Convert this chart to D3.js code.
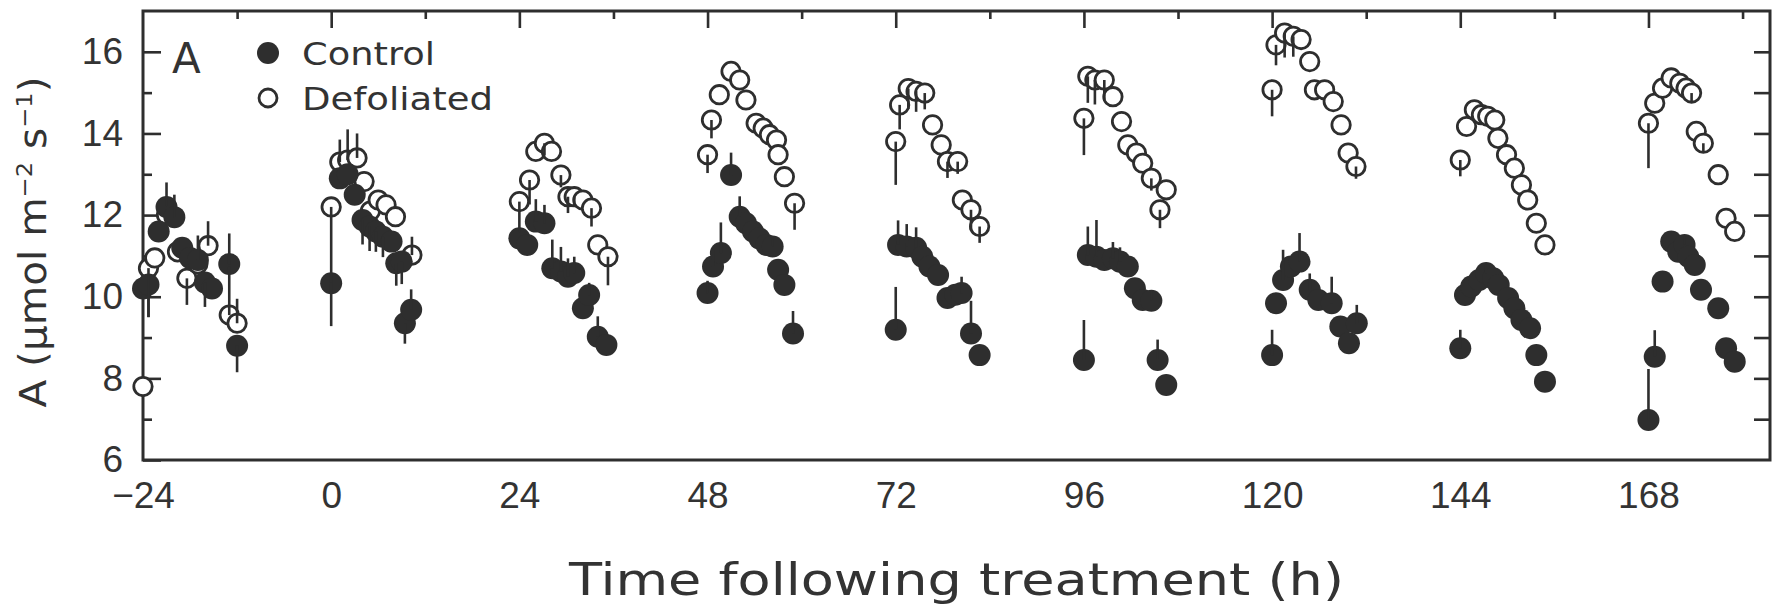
<!DOCTYPE html>
<meta charset="utf-8">
<style>
body { margin: 0; background: #fff; }
svg { display: block; }
.tick text { fill: #333; }
</style>
<svg id="chart" width="1775" height="609"></svg>
<script src="https://d3js.org/d3.v7.min.js"></script>
<script>
// ********** DATA **********
// hour of each reading, net photosynthesis A, error bar (signed: + drawn up, - drawn down)
var ctrlHour = [
  -24, -23.3, -22, -21, -20, -19, -18, -17, -16.1, -15.2, -13, -12,
  0, 1.1, 2.1, 3.0, 4.0, 4.9, 5.7, 6.6, 7.7, 8.3, 9.0, 9.4, 10.2,
  24, 25, 26.1, 27.2, 28.2, 29.3, 30.2, 31.0, 32.1, 32.9, 34.0, 35.1,
  48, 48.7, 49.7, 51.0, 52.1, 52.9, 53.8, 54.6, 55.5, 56.3, 57.0, 57.8, 58.9,
  72, 72.3, 73.4, 74.6, 75.4, 76.3, 77.4, 78.6, 79.6, 80.4, 81.6, 82.7,
  96, 96.5, 97.6, 98.6, 99.7, 100.6, 101.6, 102.5, 103.5, 104.6, 105.4, 106.5,
  120, 120.5, 121.4, 122.4, 123.5, 124.8, 125.9, 127.6, 128.7, 129.8, 130.8,
  144, 144.6, 145.4, 146.4, 147.3, 148.2, 148.9, 150.1, 150.9, 151.8, 152.9, 153.7, 154.8,
  168, 168.8, 169.8, 170.9, 171.8, 172.6, 173.1, 173.9, 174.7, 176.9, 177.9, 179.0
];
var ctrlA = [
  10.2, 10.3, 11.6, 12.2, 11.95, 11.2, 10.95, 10.9, 10.35, 10.2, 10.8, 8.8,
  10.33, 12.9, 13.0, 12.5, 11.88, 11.72, 11.6, 11.47, 11.35, 10.82, 10.86, 9.35, 9.68,
  11.43, 11.27, 11.84, 11.8, 10.7, 10.62, 10.49, 10.58, 9.72, 10.04, 9.02, 8.82,
  10.09, 10.74, 11.07, 12.98, 11.96, 11.8, 11.6, 11.43, 11.27, 11.23, 10.66, 10.29, 9.1,
  9.19, 11.27, 11.23, 11.2, 10.98, 10.74, 10.53, 9.97, 10.05, 10.09, 9.1, 8.57,
  8.45, 11.02, 10.98, 10.9, 10.94, 10.86, 10.74, 10.21, 9.92, 9.9, 8.45, 7.84,
  8.57, 9.84, 10.41, 10.74, 10.86, 10.17, 9.92, 9.84, 9.27, 8.86, 9.35,
  8.74, 10.04, 10.25, 10.41, 10.58, 10.45, 10.29, 9.97, 9.72, 9.43, 9.23, 8.57, 7.92,
  6.98, 8.53, 10.37, 11.35, 11.1, 11.27, 10.98, 10.78, 10.17, 9.72, 8.74, 8.41
];
var ctrlErr = [
  0, -0.8, 0, 0.6, 0.55, 0, 0, 0.6, -0.6, 0, 0.75, -0.65,
  -1.05, 0, 0, 0, -0.6, -0.6, -0.5, -0.5, 0, -0.55, -0.55, -0.5, 0.5,
  0, 0, 0.55, 0.45, 0.7, 0.6, 0.45, 0.4, 0, 0.3, 0.5, 0,
  0.3, 0.4, 0.75, 0.55, 0.5, 0, 0, 0, 0, 0.2, 0, 0, 0.55,
  1.05, 0.6, 0.55, 0.5, 0, 0, 0, 0, 0, 0.4, 0.8, 0,
  0.98, 0.7, 0.9, 0, 0.4, 0.35, 0, 0, 0, 0.25, 0.5, 0,
  0.62, 0, 0.74, 0, 0.7, 0.4, 0, 0.65, 0, 0, 0.45,
  0.45, 0, 0, 0, 0.2, 0, 0, 0, 0, 0, 0, 0, 0,
  1.25, 0.65, 0, 0, 0, 0.2, 0, 0, 0, 0, 0, 0
];

var defolHour = [
  -24, -23.3, -22.5, -21, -19.6, -18.4, -17, -15.7, -13, -12,
  0, 1.1, 2.1, 3.3, 4.2, 5.0, 6.0, 7.0, 8.2, 10.3,
  24, 25.3, 26.1, 27.2, 28.1, 29.3, 30.2, 31.0, 32.1, 33.2, 34.0, 35.3,
  48, 48.5, 49.5, 51.0, 52.1, 52.9, 54.2, 55.1, 55.9, 56.8, 57.0, 57.8, 59.1,
  72, 72.5, 73.6, 74.6, 75.7, 76.7, 77.8, 78.6, 79.9, 80.5, 81.6, 82.7,
  96, 96.5, 97.4, 98.6, 99.7, 100.8, 101.6, 102.7, 103.5, 104.6, 105.7, 106.5,
  120, 120.5, 121.6, 122.7, 123.7, 124.8, 125.4, 126.7, 127.8, 128.8, 129.7, 130.7,
  144, 144.8, 145.8, 146.7, 147.5, 148.4, 148.8, 149.9, 150.9, 151.8, 152.6, 153.7, 154.8,
  168, 168.8, 169.8, 170.9, 172.0, 172.8, 173.5, 174.1, 175.0, 176.9, 177.9, 179.0
];
var defolA = [
  7.8, 10.7, 10.95, 12.0, 11.1, 10.45, 10.8, 11.25, 9.55, 9.35,
  12.2, 13.3, 13.35, 13.4, 12.82, 12.1, 12.37, 12.25, 11.96, 11.02,
  12.33, 12.86, 13.56, 13.76, 13.56, 12.98, 12.45, 12.45, 12.37, 12.17, 11.27, 10.98,
  13.48, 14.33, 14.95, 15.52, 15.31, 14.82, 14.25, 14.13, 13.97, 13.84, 13.48, 12.94, 12.29,
  13.8, 14.7, 15.1, 15.03, 14.99, 14.21, 13.72, 13.31, 13.31, 12.37, 12.13, 11.72,
  14.37, 15.4, 15.31, 15.31, 14.9, 14.29, 13.72, 13.52, 13.27, 12.9, 12.13, 12.62,
  15.07, 16.17, 16.46, 16.38, 16.3, 15.76, 15.07, 15.07, 14.78, 14.21, 13.52, 13.19,
  13.35, 14.17, 14.58, 14.46, 14.42, 14.33, 13.88, 13.48, 13.15, 12.74, 12.37, 11.8, 11.27,
  14.25, 14.74, 15.11, 15.36, 15.23, 15.11, 14.99, 14.05, 13.76, 12.99, 11.92, 11.6
];
var defolErr = [
  0, -1.2, 0, 0, 0, -0.65, 0, 0.6, 1.2, 0.6,
  -1.85, 0.55, 0.75, 0.6, 0, 0, 0, 0, 0, 0.45,
  -0.75, -0.6, 0, -0.3, 0, -0.3, -0.4, -0.2, 0, -0.45, 0, -0.7,
  -0.45, -0.45, 0, 0, 0, 0, 0, 0, 0, 0, 0, 0, -0.65,
  -1.06, -0.6, -0.5, -0.5, -0.4, 0, 0, -0.4, -0.3, 0, -0.5, -0.4,
  -0.9, -0.65, -0.6, -0.5, 0, 0, 0, 0, 0, -0.3, -0.45, 0,
  -0.65, -0.5, -0.6, -0.5, 0, 0, 0, 0, 0, 0, 0, -0.3,
  -0.4, 0, 0, 0, 0, 0, 0, 0, 0, 0, 0, 0, 0,
  -1.1, 0, 0, 0, 0, 0, -0.2, 0, -0.2, 0, 0, 0
];

var xMajorTicks = [-24, 0, 24, 48, 72, 96, 120, 144, 168];
var xMinorTicks = [-12, 12, 36, 60, 84, 108, 132, 156, 180];
var yMajorTicks = [6, 8, 10, 12, 14, 16];
var yMinorTicks = [7, 9, 11, 13, 15];
var yRightTicks = [7, 8, 9, 10, 11, 12, 13, 14, 15, 16];
var seriesNames = ["Control", "Defoliated"];

// ********** LAYOUT **********
var W = 1775, H = 609;
var margin = { top: 11, right: 5, bottom: 149, left: 143 };
var width = W - margin.left - margin.right,
  height = H - margin.top - margin.bottom;
var ink = "#2e2e2e";

var x = d3.scaleLinear().domain([-24, 183.5]).range([0, width]);
var y = d3.scaleLinear().domain([6, 17]).range([height, 0]);

var svg = d3.select("#chart");
svg.append("rect").attr("width", W).attr("height", H).attr("fill", "#fff");
var g = svg.append("g").attr("transform", "translate(" + margin.left + "," + margin.top + ")");

function styleAxis(sel) {
  sel.select(".domain").remove();
  sel.selectAll(".tick line").attr("stroke", ink).attr("stroke-width", 2.6);
  sel.selectAll(".tick text")
    .attr("font-family", "'Liberation Sans', Arial, sans-serif")
    .attr("font-size", 37).attr("fill", "#333");
}

// left axis: labelled majors + short minors, ticks inward
g.append("g").call(d3.axisLeft(y).tickValues(yMajorTicks).tickSize(-18).tickPadding(20).tickFormat(d3.format("d")))
  .call(styleAxis);
g.append("g").call(d3.axisLeft(y).tickValues(yMinorTicks).tickSize(-9).tickFormat(""))
  .call(styleAxis);
// right axis
g.append("g").attr("transform", "translate(" + width + ",0)")
  .call(d3.axisRight(y).tickValues(yRightTicks).tickSize(-16).tickFormat(""))
  .call(styleAxis);
// top axis
g.append("g").call(d3.axisTop(x).tickValues(xMajorTicks.slice(1)).tickSize(-17).tickFormat(""))
  .call(styleAxis);
g.append("g").call(d3.axisTop(x).tickValues(xMinorTicks).tickSize(-8).tickFormat(""))
  .call(styleAxis);
// bottom labels only
g.append("g").attr("transform", "translate(0," + height + ")")
  .call(d3.axisBottom(x).tickValues(xMajorTicks).tickSize(0).tickPadding(22).tickFormat(d3.format("d")))
  .call(styleAxis);

// frame
g.append("rect").attr("width", width).attr("height", height)
  .attr("fill", "none").attr("stroke", ink).attr("stroke-width", 3);

// ********** MARKS **********
var ctrl = ctrlHour.map(function (h, i) { return { h: h, a: ctrlA[i], e: ctrlErr[i] }; });
var defol = defolHour.map(function (h, i) { return { h: h, a: defolA[i], e: defolErr[i] }; });

g.append("g").selectAll("circle").data(defol).enter().append("circle")
  .attr("cx", function (d) { return x(d.h); })
  .attr("cy", function (d) { return y(d.a); })
  .attr("r", 9.2)
  .attr("fill", "#fff").attr("stroke", ink).attr("stroke-width", 2.8);

g.append("g").selectAll("circle").data(ctrl).enter().append("circle")
  .attr("cx", function (d) { return x(d.h); })
  .attr("cy", function (d) { return y(d.a); })
  .attr("r", 11)
  .attr("fill", ink);

g.append("g").selectAll("line").data(ctrl.concat(defol).filter(function (d) { return d.e !== 0; }))
  .enter().append("line")
  .attr("x1", function (d) { return x(d.h); })
  .attr("x2", function (d) { return x(d.h); })
  .attr("y1", function (d) { return y(d.a); })
  .attr("y2", function (d) { return y(d.a + d.e); })
  .attr("stroke", ink).attr("stroke-width", 2.6);

// ********** LEGEND **********
var word = "'DejaVu Sans', sans-serif";
g.append("text").attr("x", 29).attr("y", 62)
  .attr("font-family", word).attr("font-size", 42).attr("fill", "#333").text("A");

var legend = g.append("g").attr("transform", "translate(125,42)");
var rows = legend.selectAll("g").data(seriesNames).enter().append("g")
  .attr("transform", function (d, i) { return "translate(0," + (i * 45) + ")"; });
rows.append("circle").attr("r", function (d, i) { return i ? 9 : 11; })
  .attr("fill", function (d, i) { return i ? "#fff" : ink; })
  .attr("stroke", ink).attr("stroke-width", function (d, i) { return i ? 2.8 : 0; });
rows.append("text").attr("x", 34).attr("y", 12)
  .attr("font-family", word).attr("font-size", 32).attr("fill", "#333")
  .attr("textLength", function (d, i) { return i ? 191 : 133; })
  .attr("lengthAdjust", "spacingAndGlyphs")
  .text(function (d) { return d; });

// ********** AXIS TITLES **********
svg.append("text")
  .attr("x", margin.left + width / 2).attr("y", 595)
  .attr("text-anchor", "middle")
  .attr("font-family", word).attr("font-size", 44).attr("fill", "#333")
  .attr("textLength", 775).attr("lengthAdjust", "spacingAndGlyphs")
  .text("Time following treatment (h)");

var yt = svg.append("text")
  .attr("transform", "translate(46,242)rotate(-90)")
  .attr("text-anchor", "middle")
  .attr("font-family", word).attr("font-size", 37).attr("fill", "#333")
  .attr("textLength", 331).attr("lengthAdjust", "spacingAndGlyphs");
yt.append("tspan").text("A (\u03bcmol m");
yt.append("tspan").attr("dy", -14).attr("font-size", 22).text("\u22122");
yt.append("tspan").attr("dy", 14).text(" s");
yt.append("tspan").attr("dy", -14).attr("font-size", 22).text("\u22121");
yt.append("tspan").attr("dy", 14).text(")");
</script>
